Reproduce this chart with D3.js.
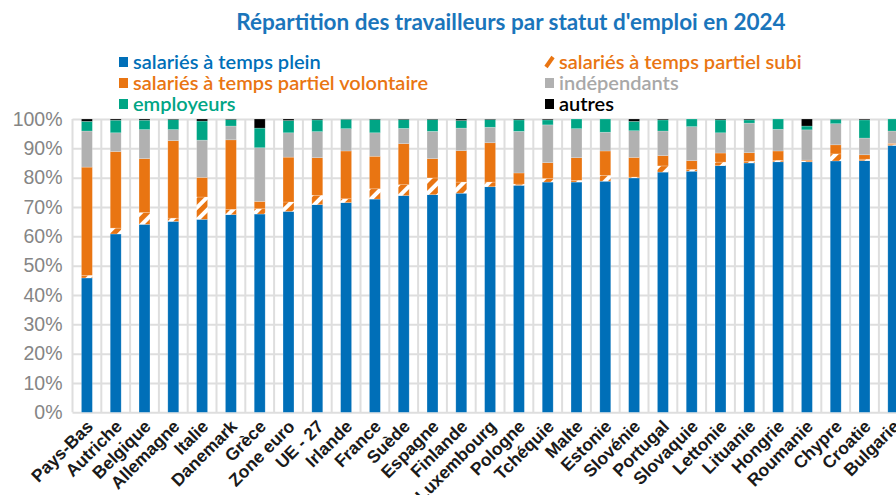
<!DOCTYPE html>
<html>
<head>
<meta charset="utf-8">
<script src="https://cdn.jsdelivr.net/npm/d3@7"></script>
<style>
  body { margin: 0; background: #fff; }
  svg { display: block; font-family: Lato, "Open Sans", sans-serif; }
</style>
</head>
<body>
<div id="chart"></div>
<script>
var categories = ['Pays-Bas', 'Autriche', 'Belgique', 'Allemagne', 'Italie', 'Danemark', 'Grèce',
  'Zone euro', 'UE - 27', 'Irlande', 'France', 'Suède', 'Espagne', 'Finlande', 'Luxembourg',
  'Pologne', 'Tchéquie', 'Malte', 'Estonie', 'Slovénie', 'Portugal', 'Slovaquie', 'Lettonie',
  'Lituanie', 'Hongrie', 'Roumanie', 'Chypre', 'Croatie', 'Bulgarie'];

var plein      = [45.8, 60.8, 64.1, 65.1, 65.8, 67.4, 67.6, 68.5, 70.8, 71.5, 72.7, 73.9, 74.2, 74.7, 76.9, 77.4, 78.5, 78.5, 78.8, 79.9, 81.9, 82.2, 84.1, 85.0, 85.4, 85.4, 85.7, 85.8, 91.0];
var subi       = [0.9, 2.0, 4.0, 1.1, 7.6, 1.8, 1.8, 3.2, 3.2, 1.3, 3.5, 3.7, 5.7, 3.8, 1.6, 0.4, 1.2, 0.6, 2.0, 0.3, 2.1, 0.6, 1.2, 0.6, 0.5, 0.3, 2.4, 0.5, 0.3];
var volontaire = [36.9, 26.1, 18.4, 26.4, 6.7, 23.7, 2.5, 15.3, 12.8, 16.3, 11.1, 14.0, 6.6, 10.7, 13.4, 3.8, 5.4, 7.7, 8.3, 6.7, 3.5, 3.0, 3.1, 2.9, 3.2, 0.3, 3.1, 1.5, 0.4];
var independants = [12.3, 6.4, 9.9, 3.8, 12.7, 4.7, 18.3, 8.3, 8.9, 7.6, 8.0, 5.2, 9.3, 7.7, 5.3, 14.2, 12.9, 9.9, 6.4, 9.1, 8.4, 11.6, 6.9, 10.1, 7.4, 10.3, 7.2, 5.7, 4.2];
var employeurs = [3.3, 4.3, 3.2, 3.4, 6.5, 2.2, 6.7, 4.2, 4.0, 3.2, 4.5, 3.0, 4.0, 2.6, 2.6, 3.9, 1.7, 3.3, 4.5, 3.2, 3.8, 2.6, 4.4, 1.1, 3.5, 1.3, 1.5, 6.2, 4.1];
var autres     = [0.8, 0.4, 0.4, 0.2, 0.7, 0.2, 3.1, 0.5, 0.3, 0.1, 0.2, 0.2, 0.2, 0.5, 0.2, 0.3, 0.3, 0.0, 0.0, 0.8, 0.3, 0.0, 0.3, 0.3, 0.0, 2.4, 0.1, 0.3, 0.0];

var yTicks = [0, 10, 20, 30, 40, 50, 60, 70, 80, 90, 100];

var seriesNames = ['salariés à temps plein', 'salariés à temps partiel subi',
  'salariés à temps partiel volontaire', 'indépendants', 'employeurs', 'autres'];
var seriesKeys = ['plein', 'subi', 'volontaire', 'independants', 'employeurs', 'autres'];
var colors = ['#006fb8', 'url(#hatch)', '#e97512', '#b1b1b1', '#00a585', '#000000'];
var textColors = ['#006fb8', '#e97512', '#e97512', '#a8a8a8', '#00a585', '#000000'];

var WIDTH = 896, HEIGHT = 495;
var PLOT_LEFT = 72.5, STEP = 28.8;
var PLOT_TOP = 119, PLOT_BOTTOM = 412.3;
var PLOT_WIDTH = STEP * categories.length;

var rows = categories.map(function(c, i) {
  return {
    pays: c, plein: plein[i], subi: subi[i], volontaire: volontaire[i],
    independants: independants[i], employeurs: employeurs[i], autres: autres[i]
  };
});

var svg = d3.select('#chart').append('svg')
  .attr('width', WIDTH)
  .attr('height', HEIGHT);

var defs = svg.append('defs');
var hatch = defs.append('pattern')
  .attr('id', 'hatch')
  .attr('patternUnits', 'userSpaceOnUse')
  .attr('width', 9)
  .attr('height', 9)
  .attr('patternTransform', 'rotate(45)');
hatch.append('rect').attr('width', 9).attr('height', 9).attr('fill', '#fff');
hatch.append('rect').attr('width', 5).attr('height', 9).attr('fill', '#e97512');

var x = d3.scaleBand()
  .domain(categories)
  .range([PLOT_LEFT, PLOT_LEFT + PLOT_WIDTH])
  .paddingInner(0.62)
  .paddingOuter(0.31);

var y = d3.scaleLinear()
  .domain([0, 100])
  .range([PLOT_BOTTOM, PLOT_TOP]);

// horizontal grid + labels
var yAxis = svg.append('g')
  .attr('transform', 'translate(' + PLOT_LEFT + ',0)')
  .call(d3.axisLeft(y)
    .tickValues(yTicks)
    .tickSize(-PLOT_WIDTH)
    .tickPadding(10)
    .tickFormat(function(d) { return d + '%'; }));
yAxis.select('.domain').remove();
yAxis.selectAll('.tick line')
  .style('stroke', '#dedede')
  .style('stroke-width', 2);
yAxis.selectAll('.tick text')
  .style('fill', '#858585')
  .style('font-size', '19.5px');

// vertical grid at category boundaries
var bounds = categories.map(function(c) { return x(c) - x.step() * x.paddingInner() / 2; });
bounds.push(PLOT_LEFT + PLOT_WIDTH);
svg.append('g').selectAll('line')
  .data(bounds)
  .enter()
    .append('line')
    .attr('x1', function(d) { return d; })
    .attr('x2', function(d) { return d; })
    .attr('y1', PLOT_TOP)
    .attr('y2', PLOT_BOTTOM)
    .style('stroke', '#dedede')
    .style('stroke-width', 2);

var stack = d3.stack().keys(seriesKeys);
var layers = stack(rows);

svg.append('g').selectAll('g')
  .data(layers)
  .enter()
    .append('g')
    .attr('fill', function(d, i) { return colors[i]; })
    .selectAll('rect')
    .data(function(d) { return d; })
    .enter()
      .append('rect')
      .attr('x', function(d) { return x(d.data.pays); })
      .attr('width', x.bandwidth())
      .attr('y', function(d) { return y(d[1]); })
      .attr('height', function(d) { return y(d[0]) - y(d[1]); })
      .style('stroke', '#fff')
      .style('stroke-opacity', 0.35)
      .style('stroke-width', 0.6);

// category labels
var xAxis = svg.append('g')
  .attr('transform', 'translate(0,' + (PLOT_BOTTOM + 6) + ')')
  .call(d3.axisBottom(x).tickSize(0).tickPadding(0));
xAxis.select('.domain').remove();
xAxis.selectAll('.tick text')
  .attr('text-anchor', 'end')
  .attr('dy', '0.35em')
  .attr('transform', 'translate(3,5) rotate(-45)')
  .style('fill', '#1a1a1a')
  .style('font-size', '17.5px')
  .style('font-weight', 600);

// title
svg.append('text')
  .attr('x', 511)
  .attr('y', 30)
  .attr('text-anchor', 'middle')
  .style('fill', '#1a75bb')
  .style('font-size', '22.5px')
  .style('font-weight', 700)
  .text("Répartition des travailleurs par statut d'emploi en 2024");

// legend
var legendPos = [[119, 62], [545, 62], [119, 83], [545, 83], [119, 104], [545, 104]];
var legend = svg.append('g').selectAll('g')
  .data(seriesNames)
  .enter()
    .append('g')
    .attr('transform', function(d, i) {
      return 'translate(' + legendPos[i][0] + ',' + legendPos[i][1] + ')';
    });

legend.append('rect')
  .attr('x', 0)
  .attr('y', -5)
  .attr('width', 9)
  .attr('height', 10)
  .attr('fill', function(d, i) { return i === 1 ? 'none' : colors[i]; });

legend.filter(function(d, i) { return i === 1; })
  .append('path')
  .attr('d', 'M1,5 L8,-5')
  .style('stroke', '#e97512')
  .style('stroke-width', 4);

legend.append('text')
  .attr('x', 14)
  .attr('dy', '0.35em')
  .style('fill', function(d, i) { return textColors[i]; })
  .style('font-size', '20px')
  .style('font-weight', 600)
  .text(function(d) { return d; });
</script>
</body>
</html>
